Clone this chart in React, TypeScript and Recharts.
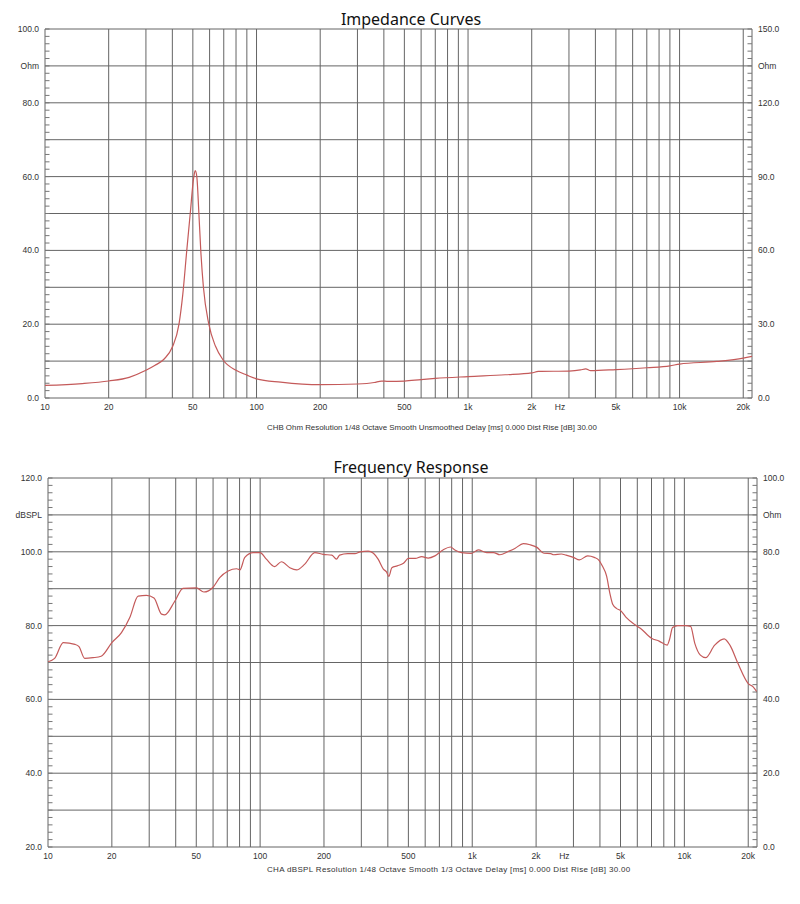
import React from "react";
import { LineChart, Line, XAxis, YAxis, ReferenceLine } from "recharts";

// shared frequency axis
const FREQ_MIN = 10;
const FREQ_MAX = 22000;
const gridFreqs = [
  10, 20, 30, 40, 50, 60, 70, 80, 90, 100, 200, 300, 400, 500, 600, 700, 800,
  900, 1000, 2000, 3000, 4000, 5000, 6000, 7000, 8000, 9000, 10000, 20000,
  FREQ_MAX,
];
const freqTickValues = [10, 20, 50, 100, 200, 500, 1000, 2000, 2720, 5000, 10000, 20000];
const freqTickLabels = ["10", "20", "50", "100", "200", "500", "1k", "2k", "Hz", "5k", "10k", "20k"];

// impedance curve
const impFreq = [
  10, 15, 20, 25, 30, 33, 36.5, 40, 43, 44.8, 46.8, 48.6, 50.4, 51.3, 52.2,
  53.4, 54.5, 56.1, 59.5, 64, 69.5, 80, 90, 100, 130, 200, 300, 360, 390, 420,
  500, 600, 700, 1000, 1500, 2000, 2150, 3000, 3400, 3600, 3800, 5000, 7000,
  9000, 10000, 15000, 20000, 22000,
];
const impOhm = [
  3.4, 3.9, 4.6, 5.6, 7.5, 8.8, 10.5, 13.8, 20, 28, 40, 50, 59.5, 61.6, 60,
  50, 40, 30, 20, 14, 10.3, 7.5, 6.2, 5.2, 4.3, 3.6, 3.8, 4.2, 4.6, 4.5, 4.6,
  5.0, 5.3, 5.8, 6.3, 6.8, 7.2, 7.3, 7.6, 7.9, 7.4, 7.7, 8.2, 8.7, 9.2, 9.9,
  10.8, 11.3,
];
const impGridY = [0, 10, 20, 30, 40, 50, 60, 70, 80, 90, 100];
const impLeftLabelValues = [0, 20, 40, 60, 80, 90, 100];
const impLeftLabels = ["0.0", "20.0", "40.0", "60.0", "80.0", "Ohm", "100.0"];
const impRightLabelValues = [0, 30, 60, 90, 120, 135, 150];
const impRightLabels = ["0.0", "30.0", "60.0", "90.0", "120.0", "Ohm", "150.0"];

// frequency response curve
const frFreq = [
  10, 10.75, 11.8, 13.4, 14, 14.9, 16.3, 17.8, 20, 22.2, 24.3, 26.6, 29.1,
  31.6, 34.3, 35.5, 39.6, 43.3, 50.1, 54.3, 60, 64.5, 70.7, 77.5, 80.3, 84.7,
  92.8, 100, 107, 117, 126, 138, 148.6, 162, 181, 198, 218, 229, 237, 259,
  280, 296, 323, 342, 360, 381, 395, 404, 418, 443, 474, 500, 539, 578, 620,
  667, 728, 790, 828, 889, 993, 1067, 1170, 1260, 1350, 1478, 1588, 1740,
  1874, 2019, 2178, 2345, 2420, 2630, 2770, 3000, 3200, 3500, 3760, 3960,
  4100, 4300, 4450, 4600, 4800, 5000, 5300, 5800, 6200, 7000, 7600, 8300,
  8500, 8800, 9300, 10100, 10700, 11200, 11900, 12600, 13900, 15400, 16400,
  17900, 20000, 21100, 22000,
];
const frDb = [
  70.2, 71.1, 75.4, 74.9, 74.3, 71.1, 71.3, 71.7, 75.4, 78.1, 82.2, 88.0,
  88.2, 87.5, 83.1, 82.9, 86.6, 90.1, 90.2, 89.1, 90.4, 93.0, 94.8, 95.4,
  95.1, 98.5, 99.8, 99.8, 98.0, 96.0, 97.3, 95.7, 95.1, 96.6, 99.8, 99.3,
  99.1, 98.0, 99.1, 99.5, 99.5, 100, 100.2, 99.6, 98.0, 95.3, 94.5, 93.3,
  95.7, 96.2, 96.9, 98.2, 98.2, 98.7, 98.3, 98.9, 100.5, 101.3, 100.5, 99.8,
  99.6, 100.5, 99.8, 99.8, 99.2, 100.1, 100.9, 102.2, 101.9, 101.2, 99.6,
  99.5, 99.2, 99.4, 99.1, 98.5, 97.8, 98.9, 98.5, 97.7, 96.2, 93.4, 88.9,
  85.7, 84.6, 84.1, 82.3, 80.4, 79.3, 76.6, 75.8, 74.7, 76.1, 79.5, 80.0,
  80.0, 79.8, 75.2, 72.0, 71.3, 74.7, 76.4, 74.7, 69.7, 64.3, 63.4, 62.0,
];
const frGridY = [20, 30, 40, 50, 60, 70, 80, 90, 100, 110, 120];
const frLeftLabelValues = [20, 40, 60, 80, 100, 110, 120];
const frLeftLabels = ["20.0", "40.0", "60.0", "80.0", "100.0", "dBSPL", "120.0"];
const frRightLabelValues = [0, 20, 40, 60, 80, 90, 100];
const frRightLabels = ["0.0", "20.0", "40.0", "60.0", "80.0", "Ohm", "100.0"];

const impData = impFreq.map((f, i) => ({ f, v: impOhm[i] }));
const frData = frFreq.map((f, i) => ({ f, v: frDb[i] }));

const minorTicks = (from: number, to: number, step: number) =>
  Array.from({ length: Math.round((to - from) / step) + 1 }, (_, i) => from + i * step);

const GRID = "#656565";
const CURVE = "#c45a5a";
const LABEL = "#333";
const TICK_FONT = "'Liberation Sans', Arial, sans-serif";
const TICK_GAP = 6;

const makeYTick =
  (side: "left" | "right", values: number[], labels: string[]) => (props: any) => {
    const { x, y, payload } = props;
    const dir = side === "left" ? 1 : -1;
    const edge = x + dir * TICK_GAP;
    const i = values.findIndex((v) => Math.abs(v - payload.value) < 1e-6);
    return (
      <g>
        <line x1={edge} x2={edge + dir * 4.5} y1={y} y2={y} stroke="#777" strokeWidth={1} />
        {i >= 0 && (
          <text
            x={x}
            y={y}
            dy="0.35em"
            textAnchor={side === "left" ? "end" : "start"}
            fontSize={8.5}
            fill={LABEL}
            fontFamily={TICK_FONT}
          >
            {labels[i]}
          </text>
        )}
      </g>
    );
  };

const freqLabel = (v: number) => {
  const i = freqTickValues.indexOf(v);
  return i >= 0 ? freqTickLabels[i] : "";
};

interface PanelProps {
  data: { f: number; v: number }[];
  height: number;
  margin: { top: number; right: number; bottom: number; left: number };
  leftDomain: [number, number];
  leftTicks: number[];
  leftLabelValues: number[];
  leftLabels: string[];
  rightDomain: [number, number];
  rightTicks: number[];
  rightLabelValues: number[];
  rightLabels: string[];
  gridY: number[];
}

function Panel(p: PanelProps) {
  return (
    <LineChart width={800} height={p.height} data={p.data} margin={p.margin}>
      <XAxis
        dataKey="f"
        type="number"
        scale="log"
        domain={[FREQ_MIN, FREQ_MAX]}
        allowDataOverflow
        ticks={freqTickValues}
        tickFormatter={freqLabel}
        interval={0}
        tickLine={false}
        axisLine={false}
        tickSize={0}
        tickMargin={6}
        height={20}
        tick={{ fontSize: 8.5, fill: LABEL, fontFamily: TICK_FONT }}
      />
      <YAxis
        yAxisId="left"
        orientation="left"
        type="number"
        domain={p.leftDomain}
        allowDataOverflow
        ticks={p.leftTicks}
        interval={0}
        width={40}
        axisLine={false}
        tickLine={false}
        tickSize={0}
        tickMargin={TICK_GAP}
        tick={makeYTick("left", p.leftLabelValues, p.leftLabels)}
      />
      <YAxis
        yAxisId="right"
        orientation="right"
        type="number"
        domain={p.rightDomain}
        allowDataOverflow
        ticks={p.rightTicks}
        interval={0}
        width={40}
        axisLine={false}
        tickLine={false}
        tickSize={0}
        tickMargin={TICK_GAP}
        tick={makeYTick("right", p.rightLabelValues, p.rightLabels)}
      />
      {p.gridY.map((v) => (
        <ReferenceLine key={"h" + v} yAxisId="left" y={v} stroke={GRID} strokeWidth={1} />
      ))}
      {gridFreqs.map((f) => (
        <ReferenceLine key={"v" + f} yAxisId="left" x={f} stroke={GRID} strokeWidth={1} />
      ))}
      <Line
        yAxisId="left"
        type="monotone"
        dataKey="v"
        stroke={CURVE}
        strokeWidth={1.2}
        dot={false}
        isAnimationActive={false}
      />
    </LineChart>
  );
}

const titleStyle: React.CSSProperties = {
  position: "absolute",
  left: 411,
  transform: "translateX(-50%)",
  fontFamily: "'Noto Sans', 'Open Sans', sans-serif",
  fontSize: 16,
  lineHeight: "22px",
  color: "#111",
  whiteSpace: "nowrap",
};

const captionStyle: React.CSSProperties = {
  position: "absolute",
  left: 267,
  fontFamily: TICK_FONT,
  fontSize: 7.9,
  lineHeight: "10px",
  color: "#333",
  whiteSpace: "nowrap",
};

export default function App() {
  return (
    <div
      style={{
        position: "absolute",
        left: 0,
        top: 0,
        width: 800,
        height: 904,
        background: "#fff",
        overflow: "hidden",
      }}
    >
      <div style={{ ...titleStyle, top: 8 }}>Impedance Curves</div>
      <div style={{ position: "absolute", left: 0, top: 0 }}>
        <Panel
          data={impData}
          height={440}
          margin={{ top: 29, right: 8, bottom: 22, left: 5 }}
          leftDomain={[0, 100]}
          leftTicks={minorTicks(0, 100, 2)}
          leftLabelValues={impLeftLabelValues}
          leftLabels={impLeftLabels}
          rightDomain={[0, 150]}
          rightTicks={minorTicks(0, 150, 3)}
          rightLabelValues={impRightLabelValues}
          rightLabels={impRightLabels}
          gridY={impGridY}
        />
      </div>
      <div style={{ ...captionStyle, top: 423 }}>
        CHB Ohm Resolution 1/48 Octave Smooth Unsmoothed Delay [ms] 0.000 Dist Rise [dB] 30.00
      </div>

      <div style={{ ...titleStyle, top: 456 }}>Frequency Response</div>
      <div style={{ position: "absolute", left: 0, top: 450 }}>
        <Panel
          data={frData}
          height={454}
          margin={{ top: 28, right: 3, bottom: 37, left: 8 }}
          leftDomain={[20, 120]}
          leftTicks={minorTicks(20, 120, 2)}
          leftLabelValues={frLeftLabelValues}
          leftLabels={frLeftLabels}
          rightDomain={[0, 100]}
          rightTicks={minorTicks(0, 100, 2)}
          rightLabelValues={frRightLabelValues}
          rightLabels={frRightLabels}
          gridY={frGridY}
        />
      </div>
      <div style={{ ...captionStyle, top: 865, fontSize: 8, letterSpacing: 0.33 }}>
        CHA dBSPL Resolution 1/48 Octave Smooth 1/3 Octave Delay [ms] 0.000 Dist Rise [dB] 30.00
      </div>
    </div>
  );
}
